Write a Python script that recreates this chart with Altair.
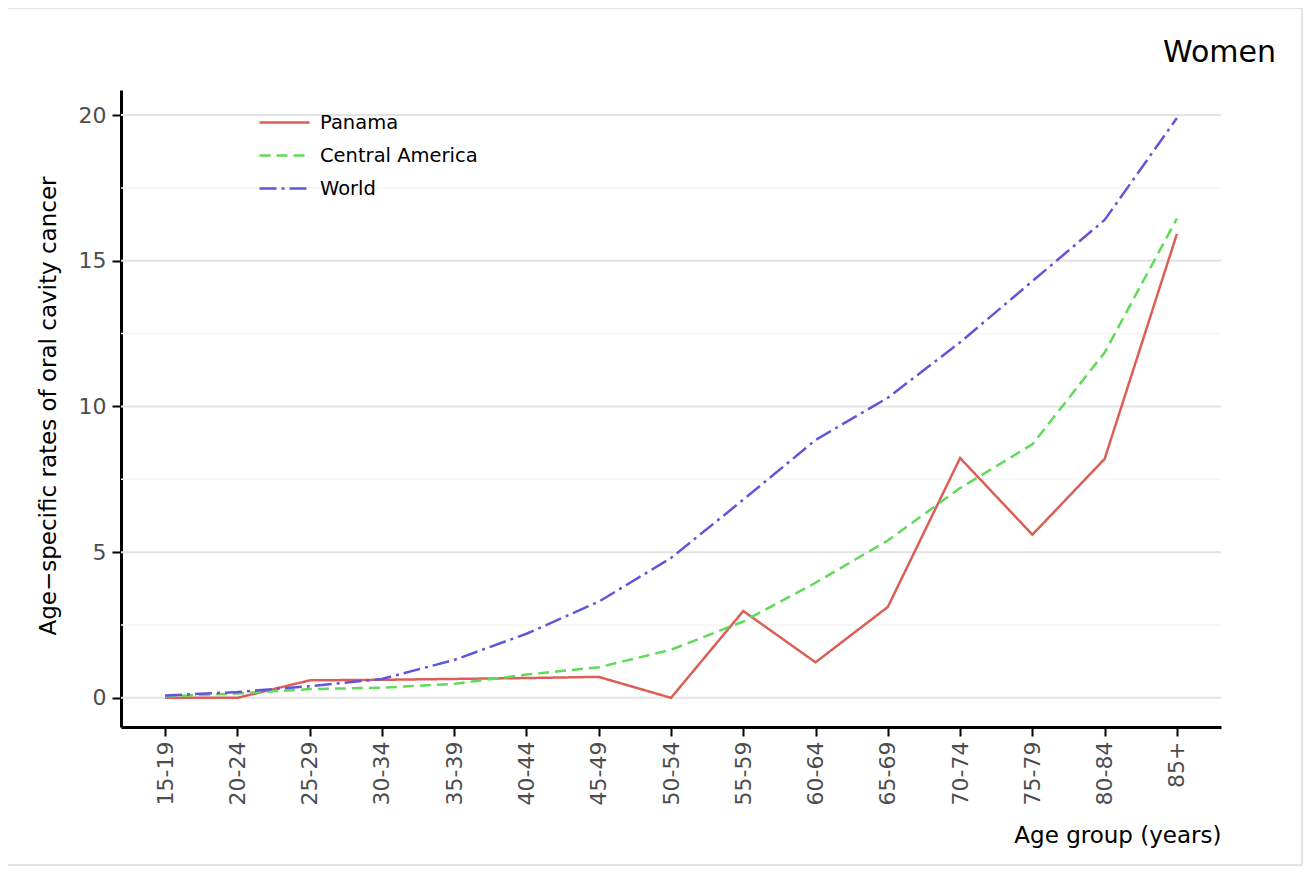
import altair as alt
import pandas as pd

ages = ["15-19", "20-24", "25-29", "30-34", "35-39", "40-44", "45-49", "50-54",
        "55-59", "60-64", "65-69", "70-74", "75-79", "80-84", "85+"]
series_names = ["Panama", "Central America", "World"]
panama = [0.0, 0.0, 0.6, 0.62, 0.65, 0.68, 0.72, 0.0, 2.98, 1.22, 3.12, 8.23, 5.6, 8.2, 15.92]
central_america = [0.05, 0.15, 0.3, 0.35, 0.48, 0.8, 1.05, 1.65, 2.62, 3.95, 5.4, 7.2, 8.7, 11.85, 16.45]
world = [0.08, 0.2, 0.4, 0.65, 1.3, 2.2, 3.3, 4.8, 6.8, 8.85, 10.3, 12.2, 14.3, 16.4, 19.9]
colors = ["#DB5F57", "#5FDB57", "#5F57DB"]
dashes = [[1, 0], [11, 6], [17, 5, 3, 5]]
y_ticks = [0, 5, 10, 15, 20]
y_minor = [2.5, 7.5, 12.5, 17.5]

rows = []
for name, vals in zip(series_names, [panama, central_america, world]):
    for a, v in zip(ages, vals):
        rows.append({"age": a, "rate": v, "series": name})
df = pd.DataFrame(rows)

W, H = 1100, 637
font = "DejaVu Sans"

y_scale = alt.Scale(domain=[-1, 20.86], nice=False, zero=False)

y_axis = alt.Axis(title="Age\u2212specific rates of oral cavity cancer",
                  values=y_ticks, labelFontSize=22, labelColor="#4d4d4d",
                  labelFont=font, labelPadding=6, tickSize=9, tickWidth=2,
                  tickColor="black", domainColor="black", domainWidth=3,
                  grid=False, titleFont=font, titleFontSize=23,
                  titleFontWeight="normal", titleColor="black",
                  titleX=-73, titleY=H / 2 - 3, titleAngle=-90,
                  titleAlign="center", titleBaseline="middle")

minor = alt.Chart(pd.DataFrame({"v": y_minor})).mark_rule(
    color="#f5f5f5", strokeWidth=1.5
).encode(y=alt.Y("v:Q", scale=y_scale, axis=y_axis))

major = alt.Chart(pd.DataFrame({"v": y_ticks})).mark_rule(
    color="#e3e3e3", strokeWidth=2
).encode(y=alt.Y("v:Q", scale=y_scale, axis=y_axis))

lines = alt.Chart(df).mark_line(strokeWidth=2.5).encode(
    x=alt.X("age:N", sort=ages,
            scale=alt.Scale(type="point", padding=0.61),
            axis=alt.Axis(title="Age group (years)", labelAngle=-90, labelAlign="right",
                          labelBaseline="middle", labelFontSize=22, labelColor="#4d4d4d",
                          labelFont=font, labelPadding=5, tickSize=9, tickWidth=2,
                          tickColor="black", domainColor="black", domainWidth=3,
                          grid=False, titleFont=font, titleFontSize=23,
                          titleFontWeight="normal", titleColor="black",
                          titleX=W, titleY=108, titleAlign="right",
                          titleBaseline="middle", titleAnchor="end")),
    y=alt.Y("rate:Q", scale=y_scale, axis=y_axis),
    color=alt.Color("series:N", sort=series_names,
                    scale=alt.Scale(domain=series_names, range=colors),
                    legend=alt.Legend(title=None, orient="none", legendX=137, legendY=16,
                                      symbolType="stroke", symbolSize=2500,
                                      symbolStrokeWidth=2.5, clipHeight=33, rowPadding=0,
                                      labelFontSize=19.5, labelFont=font, labelColor="black",
                                      labelOffset=9, symbolOffset=0)),
    strokeDash=alt.StrokeDash("series:N", sort=series_names,
                              scale=alt.Scale(domain=series_names, range=dashes),
                              legend=None),
)

women = alt.Chart(alt.Data(values=[{"t": "Women"}])).mark_text(
    align="right", baseline="middle", fontSize=30, font=font, color="black"
).encode(text="t:N", x=alt.value(W + 55), y=alt.value(-37))

border = alt.Chart(alt.Data(values=[{"a": 1}])).mark_rect(
    fill=None, fillOpacity=0, stroke="#dcdcdc", strokeWidth=1.5, clip=False
).encode(x=alt.value(-114), x2=alt.value(W + 81), y=alt.value(-82), y2=alt.value(H + 138))

chart = alt.layer(border, minor, major, lines, women).properties(
    width=W, height=H,
    background="white",
    autosize=alt.AutoSizeParams(type="none"),
    padding={"left": 113, "top": 82, "right": 82, "bottom": 139},
).configure_view(stroke=None)

chart.save("out.html", embed_options={"renderer": "svg", "actions": False})
